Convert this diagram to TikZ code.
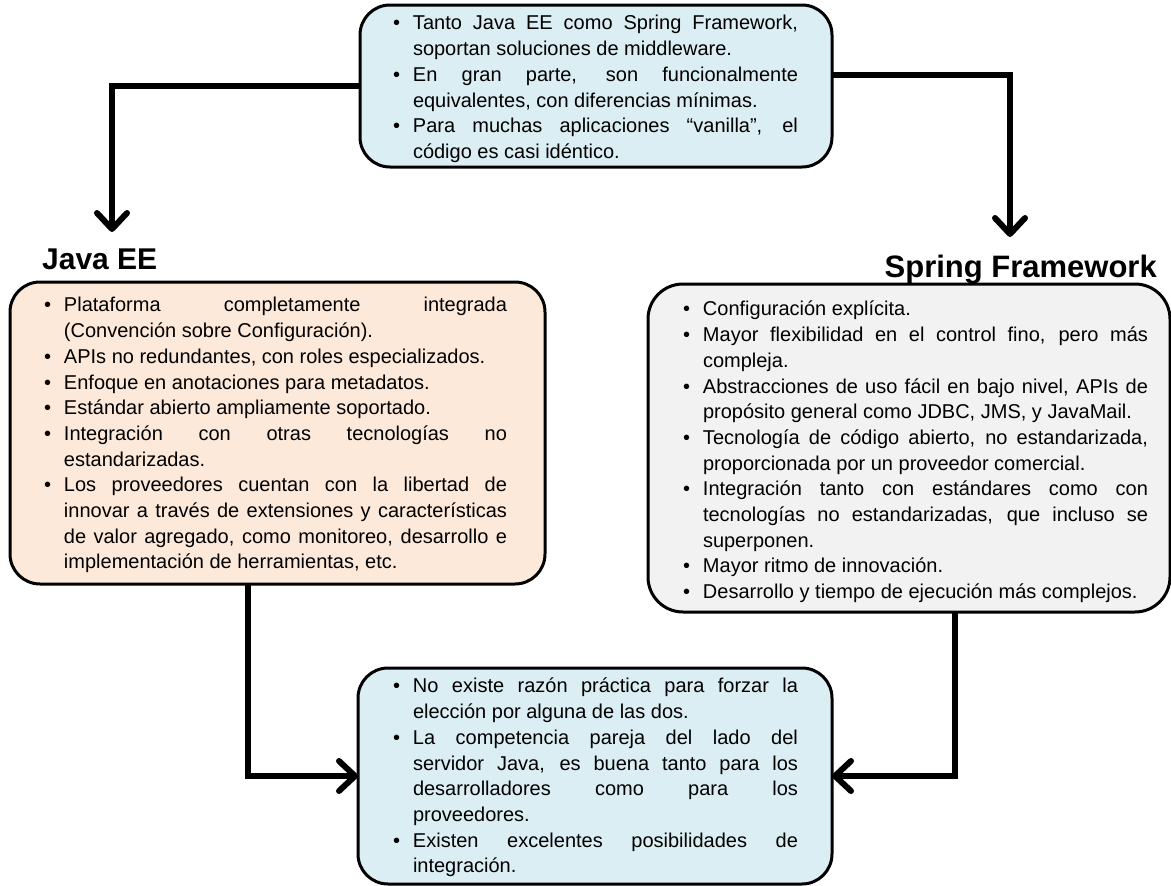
\documentclass[tikz,border=0pt]{standalone}
\usepackage{fontspec}
\setmainfont{Liberation Sans}
\usetikzlibrary{arrows.meta}
\definecolor{boxblue}{HTML}{DBEEF4}
\definecolor{boxpeach}{HTML}{FDE9D9}
\definecolor{boxgray}{HTML}{F2F2F2}
\newcommand{\bpt}[1]{\par\hangindent=20pt\hangafter=1\noindent\strut\makebox[20pt][l]{\textbullet}#1\strut\par}
\newcommand{\boxtext}[6]{\parbox[c][#2][t]{#1}{\fontsize{20}{25.7}\selectfont\leftskip=#3\relax\rightskip=#4\relax\parindent=0pt\parskip=0pt\tolerance=10000\hbadness=10000\hyphenpenalty=10000\vspace*{#5}#6}}
\tikzset{
  panel/.style={draw=black, line width=3pt, rounded corners=30pt, inner sep=0pt, outer sep=0pt},
  head/.style={font=\bfseries\fontsize{30}{36}\selectfont, inner sep=0pt},
  conn/.style={line width=6pt, draw=black, -{Straight Barb[round, length=16pt, width=30pt]}}
}
\begin{document}
\begin{tikzpicture}[x=1pt, y=-1pt]
\useasboundingbox (0,0) rectangle (1171,886);

\node[panel, fill=boxblue] (top) at (596,86) {\boxtext{472pt}{162pt}{33pt}{34pt}{7pt}{%
\bpt{Tanto Java EE como Spring Framework,\linebreak soportan soluciones de middleware.}
\bpt{En gran parte, son funcionalmente\linebreak equivalentes, con diferencias mínimas.}
\bpt{Para muchas aplicaciones “vanilla”, el\linebreak código es casi idéntico.}}};

\node[panel, fill=boxpeach] (left) at (277.5,433) {\boxtext{535pt}{302pt}{34pt}{38pt}{12pt}{%
\bpt{Plataforma completamente integrada\linebreak (Convención sobre Configuración).}
\bpt{APIs no redundantes, con roles especializados.}
\bpt{Enfoque en anotaciones para metadatos.}
\bpt{Estándar abierto ampliamente soportado.}
\bpt{Integración con otras tecnologías no\linebreak estandarizadas.}
\bpt{Los proveedores cuentan con la libertad de\linebreak innovar a través de extensiones y características\linebreak de valor agregado, como monitoreo, desarrollo e\linebreak implementación de herramientas, etc.}}};

\node[panel, rounded corners=35pt, fill=boxgray] (right) at (909,448) {\boxtext{522pt}{328pt}{35pt}{22pt}{14pt}{%
\bpt{Configuración explícita.}
\bpt{Mayor flexibilidad en el control fino, pero más\linebreak compleja.}
\bpt{Abstracciones de uso fácil en bajo nivel, APIs de\linebreak propósito general como JDBC, JMS, y JavaMail.}
\bpt{Tecnología de código abierto, no estandarizada,\linebreak proporcionada por un proveedor comercial.}
\bpt{Integración tanto con estándares como con\linebreak tecnologías no estandarizadas, que incluso se\linebreak superponen.}
\bpt{Mayor ritmo de innovación.}
\bpt{Desarrollo y tiempo de ejecución más complejos.}}};

\node[panel, fill=boxblue] (bot) at (595,776) {\boxtext{474pt}{216pt}{35pt}{34pt}{7pt}{%
\bpt{No existe razón práctica para forzar la\linebreak elección por alguna de las dos.}
\bpt{La competencia pareja del lado del\linebreak servidor Java, es buena tanto para los\linebreak desarrolladores como para los\linebreak proveedores.}
\bpt{Existen excelentes posibilidades de\linebreak integración.}}};

\node[head, anchor=base west] (jee) at (42,269) {Java EE};
\node[head, font=\bfseries\fontsize{31}{36}\selectfont, anchor=base east] (sf) at (1157,277) {Spring Framework};

\coordinate (jtip) at (112,232);
\coordinate (stip) at (1010,237);
\coordinate (jx) at (248,0);
\coordinate (sx) at (955,0);

\draw[conn] (top.west) -| (jtip);
\draw[conn] ([yshift=11pt]top.east) -| (stip);
\draw[conn] (left.south -| jx) |- (bot.west);
\draw[conn] (right.south -| sx) |- (bot.east);
\end{tikzpicture}
\end{document}
